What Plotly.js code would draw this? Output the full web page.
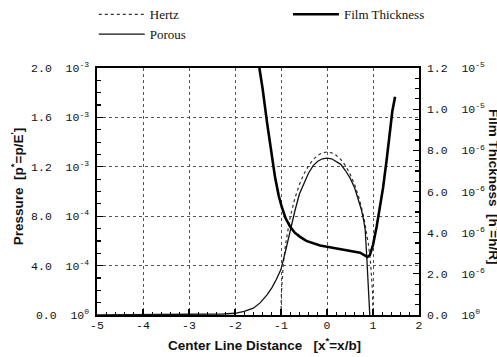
<!DOCTYPE html>
<html><head><meta charset="utf-8">
<script src="https://cdn.plot.ly/plotly-3.0.1.min.js"></script>
<style>html,body{margin:0;padding:0;background:#fff}#chart{width:497px;height:357px}</style>
</head><body><div id="chart"></div>
<script>
// Hertz pressure (dotted), p* in units of 1e-3
const hertzX = [-1.0, -0.99, -0.95, -0.9, -0.8, -0.7, -0.6, -0.5, -0.4, -0.3, -0.2, -0.1, 0.0, 0.1, 0.2, 0.3, 0.4, 0.5, 0.6, 0.7, 0.8, 0.9, 0.95, 0.99, 1.0];
const hertzP = [0.0, 0.186, 0.412, 0.575, 0.792, 0.943, 1.056, 1.143, 1.210, 1.259, 1.293, 1.313, 1.320, 1.313, 1.293, 1.259, 1.210, 1.143, 1.056, 0.943, 0.792, 0.575, 0.412, 0.186, 0.0];

// Porous pressure (thin solid), p* in units of 1e-3
const porousX = [-5.0, -4.5, -4.0, -3.5, -3.0, -2.5, -2.25, -2.0, -1.8, -1.6, -1.45, -1.3, -1.2, -1.1, -1.0, -0.9, -0.8, -0.7, -0.6, -0.5, -0.4, -0.3, -0.2, -0.1, 0.0, 0.1, 0.2, 0.3, 0.4, 0.5, 0.6, 0.7, 0.75, 0.8, 0.83, 0.86, 0.88, 0.9, 0.92, 0.93];
const porousP = [0.0, 0.001, 0.002, 0.003, 0.004, 0.006, 0.008, 0.014, 0.03, 0.055, 0.1, 0.165, 0.22, 0.29, 0.37, 0.52, 0.69, 0.84, 0.98, 1.07, 1.15, 1.21, 1.245, 1.265, 1.27, 1.265, 1.245, 1.22, 1.17, 1.11, 1.03, 0.92, 0.85, 0.76, 0.69, 0.50, 0.33, 0.18, 0.02, 0.0];

// Film thickness (thick solid), h* in units of 1e-6
const filmX = [-1.47, -1.4, -1.3, -1.2, -1.13, -1.05, -0.985, -0.9, -0.8, -0.7, -0.6, -0.45, -0.3, -0.15, 0.0, 0.2, 0.43, 0.6, 0.72, 0.8, 0.85, 0.88, 0.93, 1.0, 1.08, 1.15, 1.22, 1.3, 1.37, 1.42, 1.48];
const filmH = [12.0, 11.0, 9.3, 7.7, 6.7, 5.8, 5.26, 4.7, 4.29, 4.0, 3.82, 3.6, 3.48, 3.38, 3.32, 3.24, 3.16, 3.09, 3.03, 2.92, 2.83, 2.82, 2.9, 3.4, 4.3, 5.2, 6.2, 7.6, 9.0, 9.9, 10.6];

// Tick labels
const xTickVals = [-5, -4, -3, -2, -1, 0, 1, 2];
const xTickText = ['-5', '-4', '-3', '-2', '-1', '0', '1', '2'];
const pTickVals = [0, 0.4e-3, 0.8e-3, 1.2e-3, 1.6e-3, 2.0e-3];
const pTickText = ['0.0\u00a0\u00a010<sup>0</sup>', '4.0\u00a0\u00a010<sup>-4</sup>', '8.0\u00a0\u00a010<sup>-4</sup>', '1.2\u00a0\u00a010<sup>-3</sup>', '1.6\u00a0\u00a010<sup>-3</sup>', '2.0\u00a0\u00a010<sup>-3</sup>'];
const hTickVals = [0, 2e-6, 4e-6, 6e-6, 8e-6, 1.0e-5, 1.2e-5];
const hTickText = ['0.0\u00a0\u00a010<sup>0</sup>', '2.0\u00a0\u00a010<sup>-6</sup>', '4.0\u00a0\u00a010<sup>-6</sup>', '6.0\u00a0\u00a010<sup>-6</sup>', '8.0\u00a0\u00a010<sup>-6</sup>', '1.0\u00a0\u00a010<sup>-5</sup>', '1.2\u00a0\u00a010<sup>-5</sup>'];

const pScale = 1e-3, hScale = 1e-6;
const monoFont = {family: 'Liberation Mono, Courier New, monospace', size: 11.5, color: '#111'};
const titleFont = {family: 'Liberation Sans, Arial, sans-serif', size: 13.5, color: '#111', weight: 'bold'};
const legendFont = {family: 'Liberation Serif, Times New Roman, serif', size: 13, color: '#111'};

const traces = [
  {x: hertzX, y: hertzP.map(v => v * pScale), name: 'Hertz', mode: 'lines', legend: 'legend',
   line: {color: '#333', width: 1.2, dash: 'dot'}, yaxis: 'y'},
  {x: porousX, y: porousP.map(v => v * pScale), name: 'Porous', mode: 'lines', legend: 'legend',
   line: {color: '#111', width: 1.3}, yaxis: 'y'},
  {x: filmX, y: filmH.map(v => v * hScale), name: 'Film Thickness', mode: 'lines', legend: 'legend2',
   line: {color: '#000', width: 2.6}, yaxis: 'y2'}
];

const layout = {
  width: 497, height: 357,
  margin: {l: 97, r: 78, t: 68, b: 42, autoexpand: false},
  paper_bgcolor: '#fff', plot_bgcolor: '#fff',
  showlegend: true,
  legend: {orientation: 'v', x: -0.01, y: 1.278, xanchor: 'left', yanchor: 'top', itemwidth: 46,
           font: legendFont, bgcolor: 'rgba(0,0,0,0)', tracegroupgap: 0, traceorder: 'normal'},
  legend2: {orientation: 'v', x: 0.593, y: 1.278, xanchor: 'left', yanchor: 'top', itemwidth: 46,
           font: legendFont, bgcolor: 'rgba(0,0,0,0)'},
  xaxis: {range: [-5, 2], tickmode: 'array', tickvals: xTickVals, ticktext: xTickText,
          ticks: 'inside', ticklen: 6, tickwidth: 1.3, tickcolor: '#000',
          showline: true, linecolor: '#000', linewidth: 1.6, mirror: true,
          showgrid: true, gridcolor: '#555', griddash: 'dot', gridwidth: 1, zeroline: false,
          tickfont: monoFont, ticklabelstandoff: -1,
          minor: {tickmode: 'linear', tick0: -5, dtick: 0.2, ticks: 'inside', ticklen: 3.5, tickwidth: 1.2, tickcolor: '#000', showgrid: false}},
  yaxis: {range: [0, 2e-3], tickmode: 'array', tickvals: pTickVals, ticktext: pTickText,
          ticks: 'inside', ticklen: 6, tickwidth: 1.3, tickcolor: '#000',
          showline: true, linecolor: '#000', linewidth: 1.6, mirror: true,
          showgrid: true, gridcolor: '#555', griddash: 'dot', gridwidth: 1, zeroline: false,
          tickfont: monoFont, ticklabelstandoff: 4,
          minor: {tickmode: 'linear', tick0: 0, dtick: 1e-4, ticks: 'inside', ticklen: 4, tickwidth: 1.2, tickcolor: '#000', showgrid: false}},
  yaxis2: {range: [0, 1.2e-5], overlaying: 'y', side: 'right', tickmode: 'array', tickvals: hTickVals, ticktext: hTickText,
          ticks: 'inside', ticklen: 6, tickwidth: 1.3, tickcolor: '#000',
          showline: true, linecolor: '#000', linewidth: 1.6,
          showgrid: false, zeroline: false,
          tickfont: monoFont, ticklabelstandoff: 4,
          minor: {tickmode: 'linear', tick0: 0, dtick: 5e-7, ticks: 'inside', ticklen: 4, tickwidth: 1.2, tickcolor: '#000', showgrid: false}},
  annotations: [
    {text: 'Center Line Distance\u00a0\u00a0\u00a0[x<sup>*</sup>=x/b]', xref: 'paper', yref: 'paper',
     x: 0.52, y: -0.118, xanchor: 'center', yanchor: 'middle', showarrow: false, font: titleFont},
    {text: 'Pressure\u00a0\u00a0[p<sup>*</sup>=p/E<sup>\'</sup>]', xref: 'paper', yref: 'paper',
     x: -0.248, y: 0.518, xanchor: 'center', yanchor: 'middle', textangle: -90, showarrow: false, font: titleFont},
    {text: 'Film Thickness\u00a0\u00a0[h<sup>*</sup>=h/R]', xref: 'paper', yref: 'paper',
     x: 1.235, y: 0.52, xanchor: 'center', yanchor: 'middle', textangle: 90, showarrow: false, font: titleFont}
  ]
};

Plotly.newPlot('chart', traces, layout, {displayModeBar: false, staticPlot: true});
</script></body></html>
